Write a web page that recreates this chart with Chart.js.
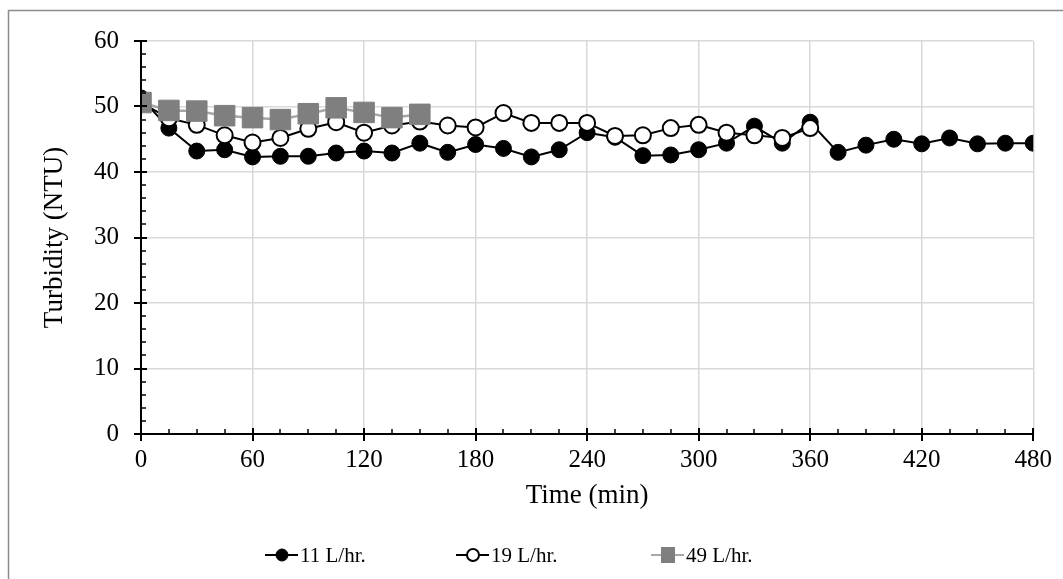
<!DOCTYPE html>
<html>
<head>
<meta charset="utf-8">
<script src="https://cdn.jsdelivr.net/npm/chart.js@4/dist/chart.umd.min.js"></script>
<style>
  html, body { margin: 0; padding: 0; background: #fff; }
  canvas { display: block; }
</style>
</head>
<body>
<canvas id="graphique" width="1063" height="579"></canvas>
<script>
// time (min) for each series
var temps11 = [0, 15, 30, 45, 60, 75, 90, 105, 120, 135, 150, 165, 180, 195, 210, 225, 240,
               255, 270, 285, 300, 315, 330, 345, 360, 375, 390, 405, 420, 435, 450, 465, 480];
var temps19 = [0, 15, 30, 45, 60, 75, 90, 105, 120, 135, 150, 165, 180, 195, 210, 225, 240,
               255, 270, 285, 300, 315, 330, 345, 360];
var temps49 = [0, 15, 30, 45, 60, 75, 90, 105, 120, 135, 150];

// turbidity (NTU)
var turb11 = [51.3, 46.7, 43.2, 43.4, 42.3, 42.4, 42.4, 42.9, 43.2, 42.9, 44.4, 43.0, 44.2, 43.6, 42.3, 43.4, 46.0,
              45.3, 42.5, 42.6, 43.4, 44.4, 47.0, 44.4, 47.6, 43.0, 44.1, 45.0, 44.3, 45.2, 44.3, 44.4, 44.4];
var turb19 = [50.6, 48.2, 47.2, 45.6, 44.5, 45.2, 46.6, 47.6, 46.0, 47.1, 47.7, 47.1, 46.8, 49.0, 47.5, 47.5, 47.5,
              45.5, 45.6, 46.7, 47.2, 46.0, 45.6, 45.2, 46.7];
var turb49 = [50.6, 49.4, 49.3, 48.6, 48.3, 48.0, 48.9, 49.8, 49.1, 48.3, 48.8];

var etiquettes = ['11 L/hr.', '19 L/hr.', '49 L/hr.'];
var xTicks = [0, 60, 120, 180, 240, 300, 360, 420, 480];
var yTicks = [0, 10, 20, 30, 40, 50, 60];

function points(xs, ys) {
    return xs.map(function(x, i) { return { x: x, y: ys[i] }; });
}

var police = '"Liberation Serif", "Times New Roman", serif';

// axes with crossing major ticks and inner minor ticks, titles, legend and frame
var decor = {
    id: 'decor',
    afterDraw: function(chart) {
        var ctx = chart.ctx;
        var xs = chart.scales.x, ys = chart.scales.y;
        var x0 = xs.getPixelForValue(0), y0 = ys.getPixelForValue(0);
        ctx.save();
        ctx.strokeStyle = '#000';
        // axis lines
        ctx.lineWidth = 2;
        ctx.beginPath();
        ctx.moveTo(x0, ys.getPixelForValue(60)); ctx.lineTo(x0, y0);
        ctx.lineTo(xs.getPixelForValue(480), y0);
        ctx.stroke();
        // y ticks
        for (var v = 0; v <= 60; v += 2) {
            var py = Math.round(ys.getPixelForValue(v)) ;
            ctx.beginPath();
            if (v % 10 === 0) { ctx.lineWidth = 2; ctx.moveTo(x0 - 7, py); ctx.lineTo(x0 + 6, py); }
            else { ctx.lineWidth = 1.5; ctx.moveTo(x0, py); ctx.lineTo(x0 + 5, py); }
            ctx.stroke();
        }
        // x ticks
        for (var t = 0; t <= 480; t += 15) {
            var px = Math.round(xs.getPixelForValue(t));
            ctx.beginPath();
            if (t % 60 === 0) { ctx.lineWidth = 2; ctx.moveTo(px, y0 - 6); ctx.lineTo(px, y0 + 7); }
            else { ctx.lineWidth = 1.5; ctx.moveTo(px, y0); ctx.lineTo(px, y0 - 5); }
            ctx.stroke();
        }
        // titles
        ctx.fillStyle = '#000';
        ctx.font = '27px ' + police;
        ctx.textAlign = 'center';
        ctx.textBaseline = 'middle';
        ctx.fillText('Time (min)', (xs.left + xs.right) / 2, 496);
        ctx.save();
        ctx.translate(55, (ys.top + ys.bottom) / 2);
        ctx.rotate(-Math.PI / 2);
        ctx.fillText('Turbidity (NTU)', 0, 0);
        ctx.restore();
        // legend
        var lx = [265, 456, 651];
        ctx.font = '21px ' + police;
        ctx.textAlign = 'left';
        chart.data.datasets.forEach(function(ds, i) {
            var ly = 555;
            ctx.strokeStyle = ds.borderColor;
            ctx.lineWidth = 2;
            ctx.beginPath(); ctx.moveTo(lx[i], ly); ctx.lineTo(lx[i] + 33, ly); ctx.stroke();
            var cx = lx[i] + 17;
            ctx.fillStyle = ds.pointBackgroundColor;
            ctx.strokeStyle = ds.pointBorderColor;
            ctx.lineWidth = ds.pointBorderWidth;
            if (ds.pointStyle === 'rect') {
                ctx.fillRect(cx - 7, ly - 8, 14, 16);
            } else {
                ctx.beginPath(); ctx.arc(cx, ly, 6, 0, Math.PI * 2); ctx.fill(); ctx.stroke();
            }
            ctx.fillStyle = '#000';
            ctx.fillText(ds.label, lx[i] + 35, ly + 1);
        });
        // frame
        ctx.strokeStyle = '#8c8c8c';
        ctx.lineWidth = 1.5;
        ctx.strokeRect(8.5, 10.5, 1100, 700);
        ctx.restore();
    }
};

document.addEventListener('DOMContentLoaded', function() {
    var ctx = document.getElementById('graphique').getContext('2d');
    var graphique = new Chart(ctx, {
        type: 'line',
        data: {
            datasets: [{
                label: etiquettes[0],
                data: points(temps11, turb11),
                borderColor: '#000',
                borderWidth: 2,
                pointStyle: 'circle',
                pointRadius: 8,
                pointBackgroundColor: '#000',
                pointBorderColor: '#000',
                pointBorderWidth: 1,
                order: 3
            }, {
                label: etiquettes[1],
                data: points(temps19, turb19),
                borderColor: '#000',
                borderWidth: 2,
                pointStyle: 'circle',
                pointRadius: 8,
                pointBackgroundColor: '#fff',
                pointBorderColor: '#000',
                pointBorderWidth: 2,
                order: 2
            }, {
                label: etiquettes[2],
                data: points(temps49, turb49),
                borderColor: '#a6a6a6',
                borderWidth: 2.5,
                pointStyle: 'rect',
                pointRadius: 14.5,
                pointBackgroundColor: '#7f7f7f',
                pointBorderColor: '#7f7f7f',
                pointBorderWidth: 1,
                order: 1
            }]
        },
        options: {
            responsive: false,
            animation: false,
            layout: { padding: { left: 0, top: 41, right: 27, bottom: 0 } },
            plugins: { legend: { display: false }, tooltip: { enabled: false } },
            scales: {
                x: {
                    type: 'linear',
                    min: 0, max: 480,
                    afterFit: function(s) { s.height = 145; },
                    afterBuildTicks: function(s) { s.ticks = xTicks.map(function(v) { return { value: v }; }); },
                    grid: { color: '#d9d9d9', lineWidth: 1.5, drawTicks: false },
                    border: { display: false },
                    ticks: { padding: 11, color: '#000', font: { family: police, size: 25 } }
                },
                y: {
                    min: 0, max: 60,
                    afterFit: function(s) { s.width = 141; },
                    afterBuildTicks: function(s) { s.ticks = yTicks.map(function(v) { return { value: v }; }); },
                    grid: { color: '#d9d9d9', lineWidth: 1.5, drawTicks: false },
                    border: { display: false },
                    ticks: { padding: 22, color: '#000', font: { family: police, size: 25 } }
                }
            }
        },
        plugins: [decor]
    });
});
</script>
</body>
</html>
